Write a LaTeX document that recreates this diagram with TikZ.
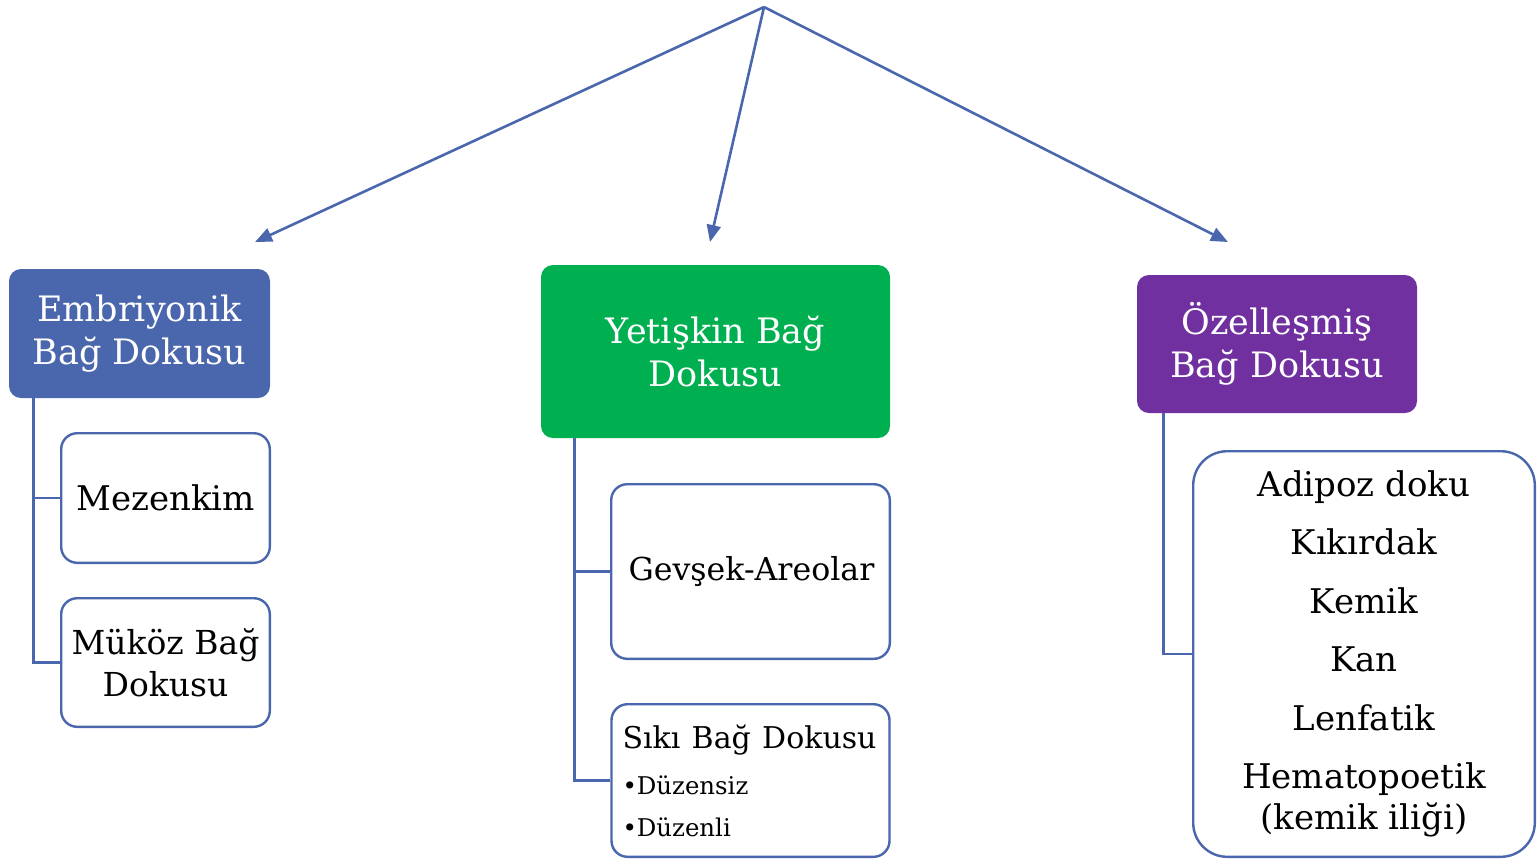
\documentclass[tikz,border=0pt]{standalone}
\usepackage{fontspec}
\setmainfont{DejaVu Serif}
\usetikzlibrary{arrows.meta}
\definecolor{lineblue}{HTML}{4A66AC}
\definecolor{hblue}{HTML}{4A66AC}
\definecolor{hgreen}{HTML}{00B050}
\definecolor{hpurple}{HTML}{7030A0}
\begin{document}
\begin{tikzpicture}[x=0.5pt,y=-0.5pt,
 header/.style={rounded corners=6pt, text=white, align=center, inner sep=0pt, font=\fontsize{17.5}{21.5}\selectfont},
 item/.style={draw=lineblue, line width=1.2pt, fill=white, rounded corners=8pt, align=center, inner sep=0pt, font=\fontsize{17}{21}\selectfont},
 conn/.style={draw=lineblue, line width=1.3pt},
 arr/.style={conn, -{Triangle[length=8.5pt,width=7pt]}}]
\useasboundingbox (0,0) rectangle (1538,859);

% header boxes
\node[header, fill=hblue, minimum width=130.5pt, minimum height=64.5pt] (emb) at (139.5,333.5) {Embriyonik\\Bağ Dokusu};
\node[header, fill=hgreen, minimum width=174.5pt, minimum height=86.5pt] (yet) at (715.5,351.5) {Yetişkin Bağ\\Dokusu};
\node[header, fill=hpurple, minimum width=140pt, minimum height=69pt] (oze) at (1277,344) {Özelleşmiş\\Bağ Dokusu};

% item boxes
\node[item, minimum width=104.3pt, minimum height=64.8pt] (mez) at (165.5,498) {Mezenkim};
\node[item, minimum width=104.3pt, minimum height=64.3pt, font=\fontsize{16.5}{21}\selectfont] (muk) at (165.5,662.5) {Müköz Bağ\\Dokusu};
\node[item, minimum width=139.3pt, minimum height=87.3pt, font=\fontsize{15.8}{21}\selectfont] (gev) at (750.5,571.5) {\hspace*{1pt}Gevşek-Areolar};
\node[item, align=left, text width=128pt, inner xsep=5.5pt, minimum height=76.3pt] (siki) at (750.5,780.5)
  {\fontsize{15}{18}\selectfont Sıkı Bağ Dokusu\\[5pt]\fontsize{12.2}{18}\selectfont •Düzensiz\\•Düzenli};
\node[item, rounded corners=17pt, minimum width=170.8pt, minimum height=202.8pt, font=\fontsize{17}{29.25}\selectfont] (ozl) at (1364,654)
  {Adipoz doku\\Kıkırdak\\Kemik\\Kan\\Lenfatik\\Hematopoetik\\[-8.75pt](kemik iliği)};

% arrows from apex
\coordinate (top) at (764,7);
\coordinate (t1) at (255,242);
\coordinate (t2) at (710,242);
\coordinate (t3) at (1228,242);
\draw[arr] (top) -- (t1);
\draw[arr] (top) -- (t2);
\draw[arr] (top) -- (t3);

% tree connectors
\draw[conn] (emb.south west) ++(25,0) |- (mez.west);
\draw[conn] (emb.south west) ++(25,0) |- (muk.west);
\draw[conn] (yet.south west) ++(34,0) |- (gev.west);
\draw[conn] (yet.south west) ++(34,0) |- (siki.west);
\draw[conn] (oze.south west) ++(27,0) |- (ozl.west);
\end{tikzpicture}
\end{document}
